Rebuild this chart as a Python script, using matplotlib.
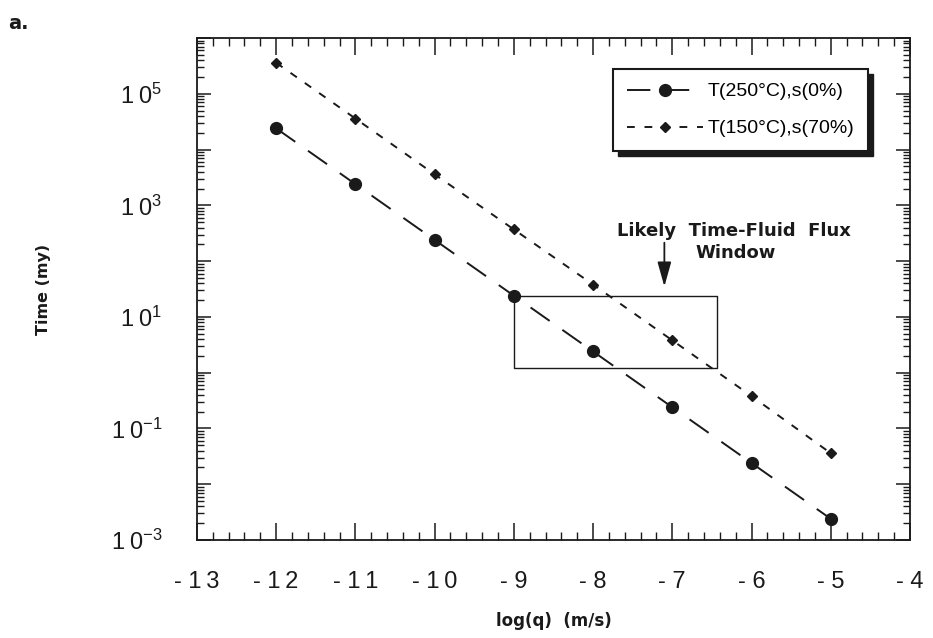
import math

import matplotlib
matplotlib.use("Agg")
import matplotlib.pyplot as plt
from matplotlib.patches import Rectangle
from matplotlib.ticker import FixedLocator, FuncFormatter, LogLocator, MultipleLocator, NullFormatter

plt.rcParams["font.family"] = ["Liberation Sans", "DejaVu Sans"]
plt.rcParams["mathtext.default"] = "regular"

# log10 of fluid flux q (m/s)
log_q = [-12, -11, -10, -9, -8, -7, -6, -5]
# time (my) for each scenario
time_250c_s0 = [2.4e4, 2.4e3, 2.4e2, 2.4e1, 2.4, 2.4e-1, 2.4e-2, 2.4e-3]
time_150c_s70 = [3.6e5, 3.6e4, 3.6e3, 3.7e2, 3.8e1, 3.8, 3.8e-1, 3.6e-2]
label_250 = "T(250°C),s(0%)"
label_150 = "T(150°C),s(70%)"

# likely time / fluid-flux window
window_x = [-9.0, -6.43]
window_y = [1.2, 24.0]
arrow_x = -7.1
arrow_from, arrow_to = 214.0, 35.0

ink = "#1a1a1a"
label_font = ["DejaVu Sans"]

fig = plt.figure(figsize=(9.33, 6.38), dpi=100)
ax = fig.add_axes([0.2111, 0.1536, 0.7642, 0.7868])

ax.plot(log_q, time_250c_s0, color=ink, lw=1.4, dashes=(12, 8), marker="o",
        markersize=8.5, label=label_250)
ax.plot(log_q, time_150c_s70, color=ink, lw=1.4, dashes=(4, 5), marker="D",
        markersize=5, label=label_150)

ax.set_yscale("log")
ax.set_xlim(-13, -4)
ax.set_ylim(1e-3, 1e6)

# window box
bx = [window_x[0], window_x[1], window_x[1], window_x[0], window_x[0]]
by = [window_y[1], window_y[1], window_y[0], window_y[0], window_y[1]]
ax.plot(bx, by, color=ink, lw=1.0, zorder=1)

ax.annotate("", xy=(arrow_x, arrow_to), xytext=(arrow_x, arrow_from),
            arrowprops=dict(arrowstyle="-|>,head_length=1.5,head_width=0.42",
                            color=ink, lw=1.3, shrinkA=0, shrinkB=0))
ax.text(-6.22, 345, "Likely  Time-Fluid  Flux", ha="center", va="center",
        fontsize=13, fontweight="bold", color=ink, family=label_font)
ax.text(-6.2, 138, "Window", ha="center", va="center",
        fontsize=13, fontweight="bold", color=ink, family=label_font)

# ticks
ax.xaxis.set_major_locator(MultipleLocator(1))
ax.xaxis.set_minor_locator(MultipleLocator(0.2))


def xlab(v, p):
    digits = "\u2009".join(str(abs(int(round(v)))))
    return f"- {digits}"


ax.xaxis.set_major_formatter(FuncFormatter(xlab))
ax.yaxis.set_major_locator(FixedLocator([10.0 ** k for k in range(-3, 7)]))
ax.yaxis.set_minor_locator(LogLocator(base=10, subs=range(2, 10), numticks=20))
ax.yaxis.set_minor_formatter(NullFormatter())


def ylab(v, p):
    k = int(round(math.log10(v)))
    if k % 2 == 0 or k > 5:
        return ""
    e = f"-{abs(k)}" if k < 0 else f"{k}"
    return r"$1\:0^{%s}$" % e


ax.yaxis.set_major_formatter(FuncFormatter(ylab))

ax.tick_params(which="both", direction="in", top=True, right=True, color=ink)
ax.tick_params(axis="x", which="major", length=12, width=1.1, pad=22,
               labelsize=17, labelcolor=ink)
ax.tick_params(axis="x", which="minor", length=6, width=1.0)
ax.tick_params(axis="y", which="major", length=10, width=1.1, pad=25,
               labelsize=17, labelcolor=ink)
ax.tick_params(axis="y", which="minor", length=5, width=1.0)
for s in ax.spines.values():
    s.set_linewidth(1.3)
    s.set_color(ink)

ax.set_xlabel("log(q)  (m/s)", fontsize=12, fontweight="bold", color=ink,
              labelpad=14, family=label_font)
ax.set_ylabel("Time (my)", fontsize=11.5, fontweight="bold", color=ink,
              labelpad=43, family=label_font)

fig.text(0.009, 0.978, "a.", fontsize=14, fontweight="bold", color=ink,
         ha="left", va="top", family=label_font)

leg = ax.legend(loc="upper right", bbox_to_anchor=(0.941, 0.938),
                borderaxespad=0, fontsize=14, handlelength=3.9,
                handletextpad=0.25, labelspacing=1.0, borderpad=0.7,
                fancybox=False, framealpha=1, edgecolor=ink)
leg.get_frame().set_linewidth(1.5)
leg.set_zorder(6)

# drop shadow under the legend frame
fig.canvas.draw()
bb = leg.get_frame().get_window_extent()
inv = ax.transAxes.inverted()
(x0, y0), (x1, y1) = inv.transform([(bb.x0 + 5, bb.y0 - 5), (bb.x1 + 5, bb.y1 - 5)])
ax.add_patch(Rectangle((x0, y0), x1 - x0, y1 - y0, transform=ax.transAxes,
                       facecolor=ink, edgecolor=ink, clip_on=False, zorder=5.5))

fig.savefig("out.png", dpi=100)
